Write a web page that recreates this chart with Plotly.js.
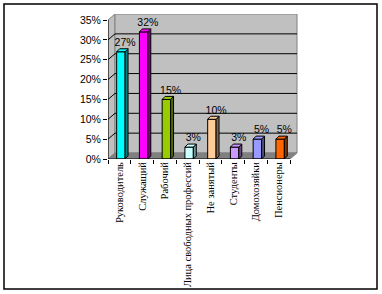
<!DOCTYPE html>
<html><head><meta charset="utf-8">
<script src="https://cdn.plot.ly/plotly-3.0.1.min.js"></script>
<style>html,body{margin:0;padding:0;background:#fff;}#chart{width:382px;height:294px;}</style>
</head><body><div id="chart"></div>
<script>
const categories = ["Руководитель","Служащий","Рабочий","Лица свободных профессий","Не занятый","Студенты","Домохозяйки","Пенсионеры"];
const values = [27, 32, 15, 3, 10, 3, 5, 5];
const yTickValues = [0, 5, 10, 15, 20, 25, 30, 35];
const yTickLabels = ["0%","5%","10%","15%","20%","25%","30%","35%"];

// styles
const faceColors = ["#00FFFF","#FF00FF","#99CC00","#CCFFFF","#FFCC99","#CC99FF","#9999FF","#FF6600"];
const sideColors = ["#008080","#800080","#4D6600","#669999","#806650","#664D80","#4D4D80","#803300"];

const DX = 0.308, DY = 1.51;      // depth of the 3D box
const W = 0.37, OFF = 0.066;       // bar width / shift
const BDX = 0.13, BDY = 0.76;      // bar depth
const N = categories.length;
const YMAX = 35;

const traces = [];
const shapes = [];

// walls
const wallFill = "#C0C0C0";
shapes.push({type:"path", layer:"below", xref:"x", yref:"y",
  path:`M${-0.5},0 L${-0.5+DX},${DY} L${-0.5+DX},${YMAX+DY} L${-0.5},${YMAX} Z`,
  fillcolor:wallFill, line:{color:"#808080", width:1}});
shapes.push({type:"path", layer:"below", xref:"x", yref:"y",
  path:`M${-0.5+DX},${DY} L${N-0.5+DX},${DY} L${N-0.5+DX},${YMAX+DY} L${-0.5+DX},${YMAX+DY} Z`,
  fillcolor:wallFill, line:{color:"#808080", width:1}});
shapes.push({type:"path", layer:"below", xref:"x", yref:"y",
  path:`M${-0.5},0 L${N-0.5},0 L${N-0.5+DX},${DY} L${-0.5+DX},${DY} Z`,
  fillcolor:"#808080", line:{color:"#808080", width:1}});
// gridlines
yTickValues.forEach(v => {
  if (v === 0 || v === YMAX) return;
  shapes.push({type:"line", layer:"below", xref:"x", yref:"y", x0:-0.5+DX, x1:N-0.5+DX, y0:v+DY, y1:v+DY, line:{color:"#000", width:1}});
  shapes.push({type:"line", layer:"below", xref:"x", yref:"y", x0:-0.5, x1:-0.5+DX, y0:v, y1:v+DY, line:{color:"#000", width:1}});
});
// axis lines
shapes.push({type:"line", xref:"x", yref:"y", x0:-0.5, x1:-0.5, y0:0, y1:YMAX, line:{color:"#000", width:1}});
shapes.push({type:"line", xref:"x", yref:"y", x0:-0.5, x1:N-0.5, y0:0, y1:0, line:{color:"#000", width:1}});
// outer border
shapes.push({type:"rect", xref:"paper", yref:"paper",
  x0:(4-108)/190, x1:(377-108)/190, y0:(159-289)/145, y1:(159-4)/145,
  line:{color:"#000", width:1.5}, fillcolor:"rgba(0,0,0,0)"});

// front faces
const xs = categories.map((c,i)=>i+OFF);
traces.push({type:"bar", x:xs, y:values, width:W,
  marker:{color:faceColors, line:{color:"#000", width:1}}, hoverinfo:"skip"});

// side and top faces
values.forEach((v,i) => {
  const xr = i+OFF+W/2, xl = i+OFF-W/2;
  traces.push({type:"scatter", mode:"lines", fill:"toself", fillcolor:sideColors[i],
    x:[xr, xr+BDX, xr+BDX, xr, xr], y:[0, BDY, v+BDY, v, 0],
    line:{color:"#000", width:1}, hoverinfo:"skip"});
  traces.push({type:"scatter", mode:"lines", fill:"toself", fillcolor:faceColors[i],
    x:[xl, xr, xr+BDX, xl+BDX, xl], y:[v, v, v+BDY, v+BDY, v],
    line:{color:"#000", width:1}, hoverinfo:"skip"});
});

// data labels
traces.push({type:"scatter", mode:"text",
  x:categories.map((c,i)=>i+0.25), y:values.map(v=>v+BDY),
  text:values.map(v=>v+"%"), textposition:"top center",
  textfont:{family:"Liberation Sans Narrow, Liberation Sans, Arial", size:10.5, color:"#000"},
  hoverinfo:"skip", cliponaxis:false});

const layout = {
  width:382, height:294,
  margin:{l:108, r:84, t:14, b:135},
  paper_bgcolor:"#fff", plot_bgcolor:"rgba(0,0,0,0)",
  showlegend:false, barmode:"overlay",
  xaxis:{range:[-0.5, N-0.5+8/22.75], tickmode:"array", tickvals:categories.map((c,i)=>i), ticktext:categories,
    tickangle:-90, ticks:"", showgrid:false, zeroline:false, showline:false, fixedrange:true,
    tickfont:{family:"Liberation Serif, Times New Roman, serif", size:10.5, color:"#000"},
    minor:{tickmode:"array", tickvals:Array.from({length:N+1},(_,k)=>k-0.5), ticks:"outside", ticklen:4, tickcolor:"#000", showgrid:false}},
  yaxis:{range:[0, YMAX+DY], tickmode:"array", tickvals:yTickValues, ticktext:yTickLabels,
    ticks:"outside", ticklen:4, tickcolor:"#000", showgrid:false, zeroline:false, showline:false, fixedrange:true,
    tickfont:{family:"Liberation Sans Narrow, Liberation Sans, Arial", size:10.5, color:"#000"}},
  shapes:shapes
};
Plotly.newPlot("chart", traces, layout, {staticPlot:true, displayModeBar:false});
</script></body></html>
